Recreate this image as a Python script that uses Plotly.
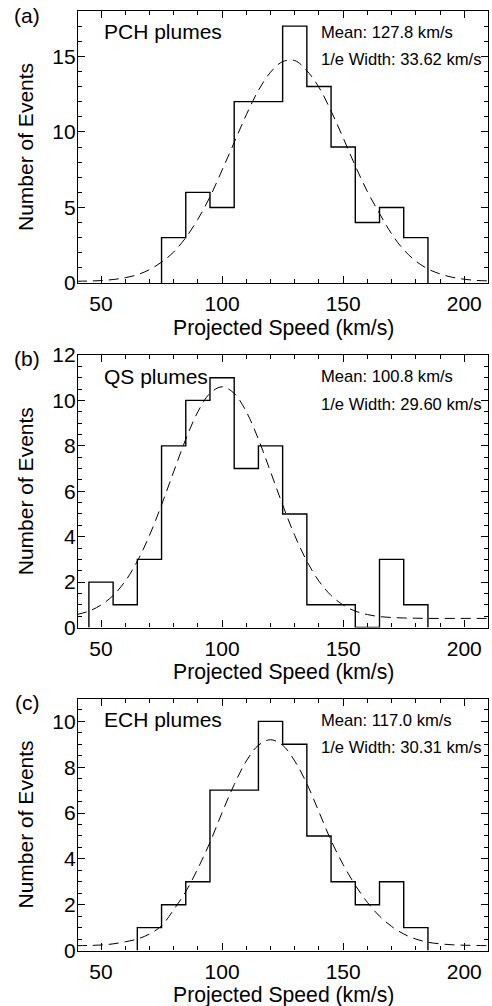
import plotly.graph_objects as go

# ---------------- data ----------------
bin_width = 10

pch_centers = [80, 90, 100, 110, 120, 130, 140, 150, 160, 170, 180]
pch_counts = [3, 6, 5, 12, 12, 17, 13, 9, 4, 5, 3]

qs_centers = [50, 60, 70, 80, 90, 100, 110, 120, 130, 140, 150, 160, 170, 180]
qs_counts = [2, 1, 3, 8, 10, 11, 7, 8, 5, 1, 1, 0, 3, 1]

ech_centers = [70, 80, 90, 100, 110, 120, 130, 140, 150, 160, 170, 180]
ech_counts = [1, 2, 3, 7, 7, 10, 9, 5, 3, 2, 3, 1]

# fitted curves (dashed)
fit_x = [40, 45, 50, 55, 60, 65, 70, 75, 80, 85, 90, 95, 100, 105, 110, 115, 120,
         125, 130, 135, 140, 145, 150, 155, 160, 165, 170, 175, 180, 185, 190, 195,
         200, 205, 210]
pch_fit = [0.12, 0.13, 0.16, 0.23, 0.35, 0.55, 0.88, 1.38, 2.05, 3.0, 4.22, 5.7,
           7.47, 9.3, 11.13, 12.75, 13.95, 14.65, 14.72, 14.05, 12.95, 11.38, 9.6,
           7.75, 6.05, 4.6, 3.25, 2.2, 1.45, 0.93, 0.6, 0.38, 0.25, 0.17, 0.14]
qs_fit = [0.57, 0.72, 0.99, 1.41, 2.04, 2.92, 4.05, 5.4, 6.86, 8.29, 9.5, 10.31,
          10.6, 10.31, 9.5, 8.29, 6.86, 5.4, 4.05, 2.92, 2.04, 1.41, 0.99, 0.72,
          0.57, 0.48, 0.44, 0.42, 0.41, 0.4, 0.4, 0.4, 0.4, 0.4, 0.4]
ech_fit = [0.21, 0.22, 0.24, 0.29, 0.38, 0.5, 0.72, 1.08, 1.78, 2.57, 3.58, 4.72,
           6.02, 7.24, 8.27, 8.96, 9.2, 8.96, 8.27, 7.28, 6.05, 4.8, 3.75, 2.85,
           2.1, 1.5, 1.05, 0.72, 0.5, 0.36, 0.29, 0.25, 0.23, 0.22, 0.21]

panel_labels = ["(a)", "(b)", "(c)"]
region_names = ["PCH plumes", "QS plumes", "ECH plumes"]
mean_texts = ["Mean: 127.8 km/s", "Mean: 100.8 km/s", "Mean: 117.0 km/s"]
width_texts = ["1/e Width: 33.62 km/s", "1/e Width: 29.60 km/s", "1/e Width: 30.31 km/s"]
x_ticks = [50, 100, 150, 200]
y_ranges = [[0, 18], [0, 12], [0, 11]]
y_dticks = [5, 2, 2]
y_minor = [1, 0.5, 0.5]
x_title = "Projected Speed (km/s)"
y_title = "Number of Events"

# ---------------- layout geometry (pixels) ----------------
W, H = 492, 1006
x_left, x_right = 78, 488
frames = [(11, 283), (355, 627.5), (698.5, 950.5)]  # (top, bottom) in px
x_label_standoff = [2, 2, 2]
FONT = "Liberation Sans, Arial, Helvetica, sans-serif"


def px_x(p):
    return p / W


def px_y(p):
    return 1 - p / H


def step_xy(centers, counts):
    edges = [c - bin_width / 2 for c in centers] + [centers[-1] + bin_width / 2]
    xs = [edges[0]] + edges[:-1] + [edges[-1]]
    ys = [0] + list(counts) + [0]
    return xs, ys


fig = go.Figure()
hist_data = [(pch_centers, pch_counts), (qs_centers, qs_counts), (ech_centers, ech_counts)]
fits = [pch_fit, qs_fit, ech_fit]

annotations = []
for i in range(3):
    ax = "" if i == 0 else str(i + 1)
    xs, ys = step_xy(*hist_data[i])
    fig.add_trace(go.Scatter(x=xs, y=ys, mode="lines", line_shape="hv",
                             line=dict(color="black", width=1.4),
                             xaxis="x" + ax, yaxis="y" + ax, showlegend=False,
                             cliponaxis=True))
    fig.add_trace(go.Scatter(x=fit_x, y=fits[i], mode="lines", line_shape="spline",
                             line=dict(color="black", width=1, dash="10px,6px"),
                             xaxis="x" + ax, yaxis="y" + ax, showlegend=False))
    top, bot = frames[i]
    common = dict(showline=True, linecolor="black", linewidth=1.2, mirror="ticks",
                  ticks="inside", ticklen=7, tickwidth=1, tickcolor="black",
                  showgrid=False, zeroline=False, automargin=False,
                  tickfont=dict(family=FONT, size=21, color="black"))
    fig.update_layout(**{
        "xaxis" + ax: dict(domain=[px_x(x_left), px_x(x_right)], range=[40.5, 209.8],
                           anchor="y" + ax, tickvals=x_ticks,
                           ticklabelstandoff=x_label_standoff[i],
                           minor=dict(ticks="inside", dtick=10, tick0=0, ticklen=4,
                                      tickcolor="black", showgrid=False),
                           **common),
        "yaxis" + ax: dict(domain=[px_y(bot), px_y(top)], range=y_ranges[i],
                           anchor="x" + ax, dtick=y_dticks[i], tick0=0,
                           ticklabelstandoff=-3,
                           minor=dict(ticks="inside", dtick=y_minor[i], tick0=0, ticklen=4,
                                      tickcolor="black", showgrid=False),
                           **common),
    })
    # panel label
    annotations.append(dict(text=panel_labels[i], x=px_x(27), y=px_y(top + 4),
                            xref="paper", yref="paper", showarrow=False,
                            xanchor="center", yanchor="middle",
                            font=dict(family=FONT, size=21, color="black")))
    # region name
    annotations.append(dict(text=region_names[i], x=px_x(102), y=px_y(top + 21),
                            xref="paper", yref="paper", showarrow=False,
                            xanchor="left", yanchor="middle",
                            font=dict(family=FONT, size=21, color="black")))
    annotations.append(dict(text=mean_texts[i], x=px_x(319), y=px_y(top + 21.5),
                            xref="paper", yref="paper", showarrow=False,
                            xanchor="left", yanchor="middle",
                            font=dict(family=FONT, size=16.6, color="black")))
    annotations.append(dict(text=width_texts[i], x=px_x(319), y=px_y(top + 49),
                            xref="paper", yref="paper", showarrow=False,
                            xanchor="left", yanchor="middle",
                            font=dict(family=FONT, size=16.6, color="black")))
    # axis titles
    annotations.append(dict(text=x_title, x=px_x((x_left + x_right) / 2), y=px_y(bot + 44.5),
                            xref="paper", yref="paper", showarrow=False,
                            xanchor="center", yanchor="middle",
                            font=dict(family=FONT, size=21.2, color="black")))
    annotations.append(dict(text=y_title, x=px_x(25), y=px_y((top + bot) / 2),
                            xref="paper", yref="paper", showarrow=False, textangle=-90,
                            xanchor="center", yanchor="middle",
                            font=dict(family=FONT, size=21, color="black")))

fig.update_layout(width=W, height=H, margin=dict(l=0, r=0, t=0, b=0),
                  paper_bgcolor="white", plot_bgcolor="white",
                  annotations=annotations, font=dict(family=FONT, color="black"))

fig.write_html("out.html", config={"displayModeBar": False})
